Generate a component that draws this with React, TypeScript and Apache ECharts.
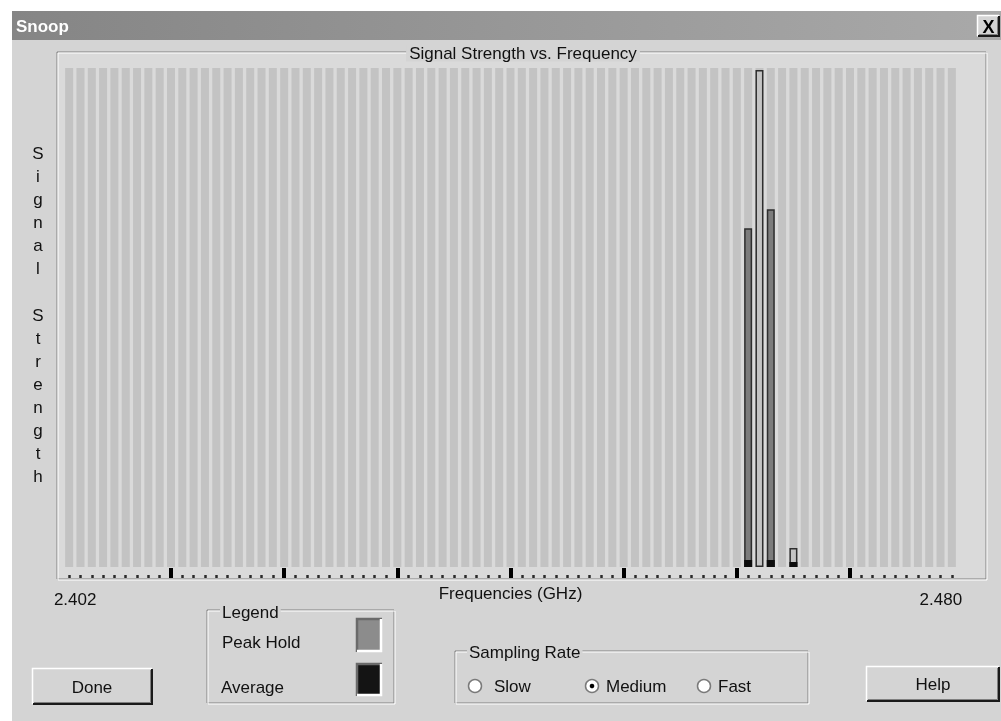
import React, { useEffect, useRef } from "react";
import * as echarts from "echarts";

const frequencies = [
  "2.402", "2.403", "2.404", "2.405", "2.406", "2.407", "2.408", "2.409", "2.410", "2.411",
  "2.412", "2.413", "2.414", "2.415", "2.416", "2.417", "2.418", "2.419", "2.420", "2.421",
  "2.422", "2.423", "2.424", "2.425", "2.426", "2.427", "2.428", "2.429", "2.430", "2.431",
  "2.432", "2.433", "2.434", "2.435", "2.436", "2.437", "2.438", "2.439", "2.440", "2.441",
  "2.442", "2.443", "2.444", "2.445", "2.446", "2.447", "2.448", "2.449", "2.450", "2.451",
  "2.452", "2.453", "2.454", "2.455", "2.456", "2.457", "2.458", "2.459", "2.460", "2.461",
  "2.462", "2.463", "2.464", "2.465", "2.466", "2.467", "2.468", "2.469", "2.470", "2.471",
  "2.472", "2.473", "2.474", "2.475", "2.476", "2.477", "2.478", "2.479", "2.480",
];

const peakHold = [
  0, 0, 0, 0, 0, 0, 0, 0, 0, 0,
  0, 0, 0, 0, 0, 0, 0, 0, 0, 0,
  0, 0, 0, 0, 0, 0, 0, 0, 0, 0,
  0, 0, 0, 0, 0, 0, 0, 0, 0, 0,
  0, 0, 0, 0, 0, 0, 0, 0, 0, 0,
  0, 0, 0, 0, 0, 0, 0, 0, 0, 0,
  67.9, 99.6, 71.7, 0, 3.8, 0, 0, 0, 0, 0,
  0, 0, 0, 0, 0, 0, 0, 0, 0,
];

const average = [
  0, 0, 0, 0, 0, 0, 0, 0, 0, 0,
  0, 0, 0, 0, 0, 0, 0, 0, 0, 0,
  0, 0, 0, 0, 0, 0, 0, 0, 0, 0,
  0, 0, 0, 0, 0, 0, 0, 0, 0, 0,
  0, 0, 0, 0, 0, 0, 0, 0, 0, 0,
  0, 0, 0, 0, 0, 0, 0, 0, 0, 0,
  1.4, 0, 1.4, 0, 1.0, 0, 0, 0, 0, 0,
  0, 0, 0, 0, 0, 0, 0, 0, 0,
];

const lightPeakIdx = [61, 64];

const FONT = '"Liberation Sans", Arial, sans-serif';
const DLG = "#d4d4d4";

function txt(text: string, x: number, y: number, opts: any = {}) {
  return {
    type: "text",
    x,
    y,
    z: 50,
    style: {
      text,
      fill: opts.fill || "#111",
      fontSize: opts.fontSize || 17,
      fontFamily: FONT,
      fontWeight: opts.fontWeight || "normal",
      align: opts.align || "left",
      verticalAlign: "middle",
      lineHeight: opts.lineHeight,
      backgroundColor: opts.backgroundColor,
      padding: opts.padding,
    },
  };
}

function raised(x: number, y: number, w: number, h: number) {
  return [
    { type: "rect", z: 10, shape: { x, y, width: w, height: h }, style: { fill: DLG } },
    {
      type: "polyline", z: 11,
      shape: { points: [[x + 0.5, y + h - 1], [x + 0.5, y + 0.5], [x + w - 1, y + 0.5]] },
      style: { stroke: "#ffffff", lineWidth: 1.5, fill: null },
    },
    {
      type: "polyline", z: 11,
      shape: { points: [[x + 1, y + h - 1], [x + w - 1, y + h - 1], [x + w - 1, y + 1]] },
      style: { stroke: "#1a1a1a", lineWidth: 2, fill: null },
    },
    {
      type: "polyline", z: 11,
      shape: { points: [[x + 2, y + h - 2.5], [x + w - 2.5, y + h - 2.5], [x + w - 2.5, y + 2]] },
      style: { stroke: "#808080", lineWidth: 1, fill: null },
    },
  ];
}

function etched(x: number, y: number, w: number, h: number) {
  return [
    { type: "rect", z: 5, shape: { x, y, width: w, height: h }, style: { fill: null, stroke: "#808080", lineWidth: 1 } },
    { type: "rect", z: 5, shape: { x: x + 1, y: y + 1, width: w, height: h }, style: { fill: null, stroke: "#ffffff", lineWidth: 1 } },
  ];
}

function sunkenSwatch(x: number, y: number, w: number, h: number, color: string) {
  return [
    { type: "rect", z: 10, shape: { x, y, width: w, height: h }, style: { fill: color } },
    {
      type: "polyline", z: 11,
      shape: { points: [[x + 1, y + h], [x + 1, y + 1], [x + w, y + 1]] },
      style: { stroke: "#6a6a6a", lineWidth: 2.5, fill: null },
    },
    {
      type: "polyline", z: 11,
      shape: { points: [[x + 1, y + h - 1], [x + w - 1, y + h - 1], [x + w - 1, y + 1]] },
      style: { stroke: "#ffffff", lineWidth: 2.5, fill: null },
    },
  ];
}

function radio(cx: number, cy: number, checked: boolean) {
  const els: any[] = [
    { type: "circle", z: 12, shape: { cx, cy, r: 6.5 }, style: { fill: "#ffffff", stroke: "#7a7a7a", lineWidth: 1.5 } },
  ];
  if (checked) els.push({ type: "circle", z: 13, shape: { cx, cy, r: 2.3 }, style: { fill: "#000" } });
  return els;
}

export default function App() {
  const ref = useRef<HTMLDivElement>(null);

  useEffect(() => {
    if (!ref.current) return;
    const chart = echarts.init(ref.current, null, { renderer: "svg" });

    const graphics: any[] = [
      { type: "rect", z: -20, shape: { x: 0, y: 0, width: 1001, height: 721 }, style: { fill: "#ffffff" } },
      { type: "rect", z: -19, shape: { x: 12, y: 11, width: 989, height: 710 }, style: { fill: DLG } },
      {
        type: "rect", z: -18, shape: { x: 12, y: 11, width: 989, height: 29 },
        style: {
          fill: new echarts.graphic.LinearGradient(0, 0, 1, 0, [
            { offset: 0, color: "#858585" },
            { offset: 1, color: "#a9a9a9" },
          ]),
        },
      },
      txt("Snoop", 16, 26, { fill: "#ffffff", fontWeight: "bold", fontSize: 17 }),
      ...raised(977, 15, 23, 22),
      txt("X", 988.5, 26.5, { fontWeight: "bold", fontSize: 18, align: "center", fill: "#000" }),
      { type: "rect", z: -10, shape: { x: 58, y: 53, width: 928, height: 526 }, style: { fill: "#dadada" } },
      ...etched(57, 52, 929, 527),
      txt("Signal Strength vs. Frequency", 523, 53, {
        align: "center", backgroundColor: DLG, padding: [0, 3, 0, 3],
      }),
      txt("S\ni\ng\nn\na\nl\n \nS\nt\nr\ne\nn\ng\nt\nh", 38, 315, { align: "center", lineHeight: 23.1 }),
      ...etched(207, 610, 187, 93),
      txt("Legend", 220, 612, { backgroundColor: DLG, padding: [0, 2, 0, 2] }),
      txt("Peak Hold", 222, 642),
      txt("Average", 221, 687),
      ...sunkenSwatch(356, 618, 26, 34, "#8c8c8c"),
      ...sunkenSwatch(356, 663, 26, 33, "#141414"),
      ...raised(32, 668, 121, 37),
      txt("Done", 92, 687, { align: "center" }),
      ...etched(455, 651, 353, 52),
      txt("Sampling Rate", 467, 652, { backgroundColor: DLG, padding: [0, 2, 0, 2] }),
      ...radio(475, 686, false),
      txt("Slow", 494, 686),
      ...radio(592, 686, true),
      txt("Medium", 606, 686),
      ...radio(704, 686, false),
      txt("Fast", 718, 686),
      ...raised(866, 666, 134, 36),
      txt("Help", 933, 684, { align: "center" }),
    ];

    const labelFmt = (value: string, index: number) =>
      index === 0 ? `{a|${value}}` : `{b|${value}}`;

    chart.setOption({
      animation: false,
      backgroundColor: "transparent",
      graphic: { elements: graphics },
      grid: { left: 63.5, right: 43.5, top: 68, bottom: 154, containLabel: false },
      xAxis: [
        {
          type: "category",
          data: frequencies,
          position: "bottom",
          offset: 11,
          axisLine: { show: false, onZero: false },
          axisTick: {
            show: true,
            inside: true,
            alignWithLabel: true,
            interval: 0,
            length: 3,
            lineStyle: { color: "#2a2a2a", width: 2.5 },
          },
          axisLabel: {
            show: true,
            interval: (i: number) => i === 0 || i === frequencies.length - 1,
            formatter: labelFmt,
            margin: 13,
            color: "#111",
            fontSize: 17,
            fontFamily: FONT,
            rich: {
              a: { fontSize: 17, fontFamily: FONT, color: "#111", padding: [0, 0, 0, 12] },
              b: { fontSize: 17, fontFamily: FONT, color: "#111", padding: [0, 22, 0, 0] },
            },
          },
          name: "Frequencies (GHz)",
          nameLocation: "middle",
          nameGap: 7,
          nameMoveOverlap: false,
          nameTextStyle: { color: "#111", fontSize: 17, fontFamily: FONT, verticalAlign: "top" },
        },
        {
          type: "category",
          data: frequencies,
          position: "bottom",
          offset: 11,
          axisLine: { show: false, onZero: false },
          axisTick: {
            show: true,
            inside: true,
            alignWithLabel: true,
            interval: (i: number) => i % 10 === 9,
            length: 10,
            lineStyle: { color: "#000", width: 4 },
          },
          axisLabel: { show: false },
        },
      ],
      yAxis: {
        type: "value",
        min: 0,
        max: 100,
        axisLine: { show: false },
        axisTick: { show: false },
        axisLabel: { show: false },
        splitLine: { show: false },
      },
      series: [
        {
          name: "Peak Hold",
          type: "bar",
          xAxisIndex: 0,
          barWidth: 8,
          showBackground: true,
          backgroundStyle: { color: "#c3c3c3" },
          data: peakHold.map((v, i) => ({
            value: v,
            itemStyle: {
              color: lightPeakIdx.includes(i) ? "#c4c4c4" : "#7c7c7c",
              borderColor: "#2e2e2e",
              borderWidth: v > 0 ? 1.5 : 0,
            },
          })),
        },
        {
          name: "Average",
          type: "bar",
          xAxisIndex: 0,
          barWidth: 8,
          barGap: "-100%",
          itemStyle: { color: "#0d0d0d" },
          data: average,
        },
      ],
    });

    return () => chart.dispose();
  }, []);

  return (
    <div
      ref={ref}
      style={{ position: "fixed", left: 0, top: 0, width: 1001, height: 721 }}
    />
  );
}
